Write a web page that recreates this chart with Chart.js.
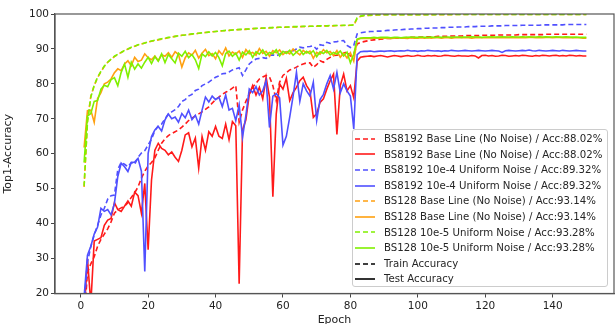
<!DOCTYPE html>
<html>
<head>
<meta charset="utf-8">
<script src="https://cdn.jsdelivr.net/npm/chart.js@4.4.1/dist/chart.umd.min.js"></script>
<style>
  html, body { margin: 0; padding: 0; background: #fff; }
  #wrap { position: relative; width: 615px; height: 324px; overflow: hidden; }
  #legend {
    position: absolute; left: 352px; top: 129px; width: 256px; height: 158px;
    border: 1px solid #cccccc; border-radius: 3px; background: rgba(255,255,255,0.85);
    font-family: "DejaVu Sans", sans-serif; font-size: 10.2px; color: #262626;
    box-sizing: border-box; padding-top: 1px;
  }
  #legend .row { height: 15.6px; line-height: 15.6px; white-space: nowrap; display: flex; align-items: center; }
  #legend svg { margin-left: 2px; margin-right: 9px; flex: none; }
</style>
</head>
<body>
<div id="wrap">
  <canvas id="chart" width="615" height="324"></canvas>
  <div id="legend"></div>
</div>
<script>
// epochs 1..150
const epochs = Array.from({ length: 150 }, (_, i) => i + 1);
const xTicks = [0, 20, 40, 60, 80, 100, 120, 140];
const yTicks = [20, 30, 40, 50, 60, 70, 80, 90, 100];

// BS8192 base line (no noise)
const bs8192BaseTrain = [
  12.0, 26.0, 28.5, 30.5, 33.5, 35.5, 37.0, 38.5, 40.5, 43.0,
  44.0, 44.5, 45.0, 46.0, 47.5, 48.8, 50.5, 53.0, 55.0, 56.5,
  57.5, 58.8, 61.0, 63.0, 64.3, 65.2, 65.8, 66.3, 66.8, 67.6,
  68.5, 69.5, 70.2, 70.8, 71.4, 72.0, 72.7, 73.4, 74.5, 75.5,
  76.2, 77.0, 77.6, 78.1, 78.8, 79.5, 69.0, 72.5, 75.0, 77.1,
  79.0, 80.2, 81.4, 82.0, 82.4, 82.0, 79.5, 75.2, 80.5, 82.4,
  83.2, 84.0, 84.3, 84.8, 85.3, 85.7, 86.0, 86.0, 84.7, 85.5,
  86.6, 86.2, 87.0, 87.6, 88.1, 88.2, 88.4, 88.8, 89.2, 88.0,
  88.5, 91.4, 91.9, 92.1, 92.3, 92.5, 92.6, 92.7, 92.8, 92.9,
  93.0, 93.0, 93.1, 93.1, 93.2, 93.2, 93.3, 93.3, 93.3, 93.4,
  93.4, 93.4, 93.5, 93.5, 93.5, 93.6, 93.6, 93.6, 93.6, 93.7,
  93.7, 93.7, 93.7, 93.8, 93.8, 93.8, 93.8, 93.8, 93.9, 93.9,
  93.9, 93.9, 93.9, 94.0, 94.0, 94.0, 94.0, 94.0, 94.0, 94.1,
  94.1, 94.1, 94.1, 94.1, 94.1, 94.1, 94.1, 94.2, 94.2, 94.2,
  94.2, 94.2, 94.2, 94.2, 94.2, 94.2, 94.2, 94.2, 94.2, 94.2
];
const bs8192BaseTest = [
  14.0, 30.0, 17.0, 35.0, 35.5, 36.0, 39.5, 41.0, 41.5, 46.0,
  44.0, 43.5, 45.0, 46.5, 45.0, 49.0, 48.0, 43.0, 51.5, 32.5,
  52.5, 61.0, 63.0, 61.5, 61.0, 59.7, 60.5, 59.0, 57.8, 61.0,
  65.4, 66.0, 62.0, 64.5, 55.9, 64.9, 61.0, 66.3, 65.0, 67.8,
  65.0, 64.4, 68.5, 64.0, 69.2, 68.0, 22.8, 66.8, 69.7, 77.0,
  79.5, 76.8, 79.0, 75.7, 81.9, 76.2, 47.7, 71.4, 80.0, 78.5,
  81.6, 75.2, 77.5, 79.0, 80.9, 81.9, 79.5, 78.0, 70.4, 71.5,
  74.7, 75.7, 78.5, 80.9, 82.8, 65.5, 79.5, 82.8, 78.0, 79.5,
  76.0, 86.5, 87.6, 87.8, 87.9, 88.0, 87.8, 88.0, 88.1, 87.9,
  87.7, 87.9, 88.1, 88.0, 87.8, 88.0, 88.1, 87.9, 88.0, 88.2,
  88.0, 87.9, 88.1, 88.0, 88.1, 87.9, 88.0, 88.2, 88.1, 88.0,
  87.9, 88.1, 88.0, 88.0, 87.9, 88.1, 88.0, 87.4, 88.1, 88.2,
  88.0, 88.1, 87.9, 88.0, 88.2, 88.1, 87.9, 88.0, 88.1, 88.0,
  88.2, 88.1, 88.0, 87.9, 88.1, 88.0, 88.2, 88.1, 88.0, 88.1,
  88.2, 88.0, 88.1, 88.0, 88.2, 88.1, 88.0, 88.1, 88.0, 88.0
];

// BS8192 10e-4 uniform noise
const bs8192NoiseTrain = [
  17.0, 29.0, 33.4, 36.8, 39.5, 42.5, 44.4, 47.0, 48.0, 48.2,
  55.5, 57.5, 57.0, 56.3, 57.5, 57.0, 59.0, 60.2, 60.9, 62.5,
  64.2, 66.6, 68.0, 68.5, 70.0, 71.4, 72.0, 72.6, 73.5, 75.0,
  75.5, 76.5, 77.0, 78.1, 78.5, 79.5, 80.0, 80.5, 81.2, 81.9,
  82.3, 82.9, 83.0, 83.4, 84.0, 84.3, 84.6, 82.4, 84.0, 85.7,
  86.5, 87.1, 87.3, 87.5, 87.3, 88.1, 88.3, 88.0, 88.5, 89.0,
  89.2, 89.3, 89.5, 90.0, 90.5, 90.3, 90.6, 90.7, 90.9, 89.9,
  91.2, 91.0, 91.9, 91.6, 92.0, 92.1, 92.3, 92.4, 91.0, 90.4,
  91.0, 94.3, 94.6, 94.8, 94.9, 95.0, 95.0, 95.1, 95.1, 95.2,
  95.3, 95.3, 95.4, 95.5, 95.5, 95.6, 95.6, 95.7, 95.7, 95.8,
  95.8, 95.9, 95.9, 96.0, 96.0, 96.0, 96.1, 96.1, 96.2, 96.2,
  96.2, 96.3, 96.3, 96.3, 96.4, 96.4, 96.4, 96.5, 96.5, 96.5,
  96.5, 96.6, 96.6, 96.6, 96.6, 96.7, 96.7, 96.7, 96.7, 96.7,
  96.8, 96.8, 96.8, 96.8, 96.8, 96.8, 96.9, 96.9, 96.9, 96.9,
  96.9, 96.9, 96.9, 97.0, 97.0, 97.0, 97.0, 97.0, 97.0, 97.0
];
const bs8192NoiseTest = [
  19.0, 31.0, 33.5, 37.0, 39.0, 44.4, 43.5, 44.0, 42.5, 45.8,
  53.5, 57.3, 56.3, 54.9, 57.5, 57.6, 58.7, 55.0, 26.3, 60.1,
  64.9, 66.8, 67.8, 66.5, 69.7, 71.4, 70.0, 70.5, 69.0, 71.5,
  70.3, 72.5, 69.8, 71.0, 68.5, 72.5, 76.2, 74.8, 76.5, 75.5,
  76.2, 73.5, 76.8, 72.5, 73.0, 69.5, 74.0, 64.7, 71.0, 78.5,
  77.5, 79.2, 76.8, 78.0, 80.9, 67.5, 76.5, 77.2, 76.0, 62.5,
  65.0, 70.5, 76.5, 83.3, 75.0, 80.0, 78.0, 76.5, 80.5, 69.5,
  75.5, 77.0, 80.0, 82.4, 78.5, 83.3, 77.5, 80.0, 78.0, 76.5,
  67.1, 88.4, 89.2, 89.3, 89.3, 89.4, 89.2, 89.3, 89.4, 89.3,
  89.4, 89.5, 89.3, 89.4, 89.5, 89.4, 89.6, 89.4, 89.5, 89.3,
  89.5, 89.4, 89.6, 89.5, 89.4, 89.5, 89.3, 89.5, 89.4, 89.6,
  89.5, 89.4, 89.5, 89.6, 89.5, 89.4, 89.5, 89.6, 89.5, 89.4,
  89.5, 89.6, 89.5, 89.4, 89.0, 89.5, 89.6, 89.5, 89.4, 89.5,
  89.6, 89.5, 89.7, 89.5, 89.4, 89.6, 89.5, 89.4, 89.5, 89.6,
  89.5, 89.4, 89.6, 89.5, 89.4, 89.5, 89.6, 89.5, 89.4, 89.4
];

// BS128 base line (no noise)
const bs128BaseTrain = [
  50.5, 69.5, 76.5, 79.5, 81.8, 83.5, 85.0, 86.2, 87.0, 87.8,
  88.4, 89.0, 89.5, 90.0, 90.4, 90.8, 91.1, 91.4, 91.7, 92.0,
  92.2, 92.4, 92.6, 92.8, 93.0, 93.2, 93.4, 93.6, 93.7, 93.9,
  94.0, 94.1, 94.2, 94.3, 94.5, 94.6, 94.7, 94.8, 94.9, 95.0,
  95.1, 95.2, 95.2, 95.3, 95.4, 95.5, 95.5, 95.6, 95.6, 95.7,
  95.8, 95.8, 95.9, 95.9, 96.0, 96.0, 96.1, 96.1, 96.2, 96.2,
  96.2, 96.3, 96.3, 96.3, 96.4, 96.4, 96.4, 96.5, 96.5, 96.5,
  96.5, 96.6, 96.6, 96.6, 96.6, 96.7, 96.7, 96.7, 96.7, 96.8,
  96.8, 98.7, 99.3, 99.5, 99.6, 99.6, 99.7, 99.7, 99.7, 99.8,
  99.8, 99.8, 99.8, 99.8, 99.8, 99.8, 99.8, 99.8, 99.8, 99.8,
  99.8, 99.8, 99.8, 99.8, 99.8, 99.8, 99.8, 99.8, 99.8, 99.8,
  99.9, 99.9, 99.9, 99.9, 99.9, 99.9, 99.9, 99.9, 99.9, 99.9,
  99.9, 99.9, 99.9, 99.9, 99.9, 99.9, 99.9, 99.9, 99.9, 99.9,
  99.9, 99.9, 99.9, 99.9, 99.9, 99.9, 99.9, 99.9, 99.9, 99.9,
  99.9, 99.9, 99.9, 99.9, 99.9, 99.9, 99.9, 99.9, 99.9, 99.9
];
const bs128BaseTest = [
  61.8, 72.3, 72.5, 69.0, 75.8, 77.5, 80.0, 80.5, 81.4, 83.2,
  84.3, 83.8, 85.7, 86.6, 85.2, 87.6, 86.4, 86.8, 88.6, 87.5,
  86.9, 88.0, 86.6, 88.3, 87.9, 88.9, 87.6, 89.2, 88.4, 84.8,
  87.5, 88.9, 88.2, 89.6, 87.4, 88.8, 89.9, 88.1, 88.7, 87.2,
  89.5, 88.3, 90.3, 88.0, 89.1, 88.5, 89.4, 87.6, 89.8, 88.6,
  89.0, 88.2, 90.1, 88.7, 89.3, 87.9, 89.5, 88.9, 89.7, 88.4,
  89.2, 88.6, 90.0, 89.1, 88.3, 89.6, 88.8, 89.4, 87.3, 89.0,
  88.5, 89.8, 88.9, 89.3, 88.1, 89.5, 87.6, 88.8, 87.4, 88.9,
  86.5, 92.6, 93.0, 93.0, 93.1, 93.0, 93.1, 93.1, 93.0, 93.1,
  93.1, 93.0, 93.1, 93.2, 93.1, 93.1, 93.0, 93.2, 93.1, 93.1,
  93.2, 93.1, 93.2, 93.1, 93.2, 93.2, 93.1, 93.2, 93.2, 93.1,
  93.2, 93.2, 93.3, 93.2, 93.2, 93.1, 93.2, 93.3, 93.2, 93.2,
  93.3, 93.2, 93.2, 93.3, 93.2, 93.3, 93.2, 93.2, 93.3, 93.2,
  93.3, 93.2, 93.3, 93.3, 93.2, 93.3, 93.2, 93.3, 93.3, 93.2,
  93.3, 93.3, 93.2, 93.3, 93.2, 93.3, 93.2, 93.2, 93.1, 93.1
];

// BS128 10e-5 uniform noise
const bs128NoiseTrain = [
  50.8, 69.0, 76.2, 79.6, 81.9, 83.6, 85.1, 86.2, 87.1, 87.9,
  88.5, 89.0, 89.6, 90.0, 90.5, 90.8, 91.2, 91.4, 91.7, 92.0,
  92.3, 92.5, 92.7, 92.9, 93.1, 93.3, 93.4, 93.6, 93.8, 93.9,
  94.0, 94.2, 94.3, 94.4, 94.5, 94.6, 94.7, 94.8, 94.9, 95.0,
  95.1, 95.2, 95.3, 95.3, 95.4, 95.5, 95.6, 95.6, 95.7, 95.7,
  95.8, 95.9, 95.9, 96.0, 96.0, 96.1, 96.1, 96.2, 96.2, 96.2,
  96.3, 96.3, 96.4, 96.4, 96.4, 96.5, 96.5, 96.5, 96.5, 96.6,
  96.6, 96.6, 96.6, 96.7, 96.7, 96.7, 96.7, 96.8, 96.8, 96.8,
  96.9, 98.9, 99.4, 99.6, 99.6, 99.7, 99.7, 99.8, 99.8, 99.8,
  99.8, 99.8, 99.8, 99.8, 99.8, 99.8, 99.8, 99.8, 99.8, 99.8,
  99.8, 99.8, 99.8, 99.8, 99.8, 99.9, 99.9, 99.9, 99.9, 99.9,
  99.9, 99.9, 99.9, 99.9, 99.9, 99.9, 99.9, 99.9, 99.9, 99.9,
  99.9, 99.9, 99.9, 99.9, 99.9, 99.9, 99.9, 99.9, 99.9, 99.9,
  99.9, 99.9, 99.9, 99.9, 99.9, 99.9, 99.9, 99.9, 99.9, 99.9,
  99.9, 99.9, 99.9, 99.9, 99.9, 99.9, 99.9, 99.9, 99.9, 99.9
];
const bs128NoiseTest = [
  57.5, 70.8, 71.5, 75.0, 75.2, 78.5, 79.6, 79.2, 81.2, 81.8,
  79.5, 83.3, 85.7, 81.9, 86.2, 84.2, 85.7, 84.5, 86.2, 87.6,
  85.8, 87.8, 86.5, 88.6, 86.1, 88.4, 87.2, 86.0, 88.8, 87.9,
  89.3, 87.5, 88.4, 86.9, 84.4, 88.6, 87.8, 89.2, 88.0, 89.0,
  87.5, 85.2, 88.7, 89.4, 87.9, 88.8, 86.8, 89.1, 88.3, 89.5,
  87.6, 89.2, 88.5, 89.7, 88.1, 89.0, 88.6, 89.8, 88.0, 89.3,
  88.7, 89.6, 88.2, 89.1, 89.8, 88.4, 89.3, 88.6, 89.5, 87.8,
  89.2, 88.7, 89.6, 88.3, 89.0, 88.5, 89.4, 88.0, 89.1, 86.0,
  88.5, 92.8, 93.1, 93.2, 93.2, 93.2, 93.3, 93.2, 93.3, 93.3,
  93.3, 93.2, 93.3, 93.3, 93.2, 93.3, 93.3, 93.4, 93.3, 93.3,
  93.4, 93.3, 93.3, 93.4, 93.3, 93.4, 93.3, 93.4, 93.4, 93.3,
  93.4, 93.4, 93.3, 93.4, 93.4, 93.5, 93.4, 93.4, 93.3, 93.4,
  93.4, 93.5, 93.4, 93.4, 93.5, 93.4, 93.4, 93.5, 93.4, 93.4,
  93.5, 93.4, 93.5, 93.4, 93.4, 93.5, 93.4, 93.5, 93.4, 93.4,
  93.5, 93.4, 93.4, 93.5, 93.4, 93.3, 93.4, 93.3, 93.3, 93.3
];

const seriesNames = [
  'BS8192 Base Line (No Noise) / Acc:88.02%',
  'BS8192 Base Line (No Noise) / Acc:88.02%',
  'BS8192 10e-4 Uniform Noise / Acc:89.32%',
  'BS8192 10e-4 Uniform Noise / Acc:89.32%',
  'BS128 Base Line (No Noise) / Acc:93.14%',
  'BS128 Base Line (No Noise) / Acc:93.14%',
  'BS128 10e-5 Uniform Noise / Acc:93.28%',
  'BS128 10e-5 Uniform Noise / Acc:93.28%'
];
const seriesValues = [
  bs8192BaseTrain, bs8192BaseTest,
  bs8192NoiseTrain, bs8192NoiseTest,
  bs128BaseTrain, bs128BaseTest,
  bs128NoiseTrain, bs128NoiseTest
];
const seriesColors = ['#ff1a1a', '#ff1a1a', '#5050ff', '#5050ff', '#ffa010', '#ffa010', '#80f000', '#80f000'];
const dashPattern = [5, 3];

function makeDataset(values, i) {
  const dashed = i % 2 === 0;
  return {
    label: seriesNames[i],
    data: values.map((v, k) => ({ x: epochs[k], y: v })),
    borderColor: seriesColors[i],
    borderWidth: 1.6,
    borderDash: dashed ? dashPattern : [],
    pointRadius: 0,
    tension: 0,
    fill: false,
    order: seriesValues.length - i // later series drawn on top, like matplotlib
  };
}

const frame = {
  id: 'frame',
  afterDraw(chart) {
    const a = chart.chartArea;
    const ctx = chart.ctx;
    ctx.save();
    ctx.strokeStyle = '#555';
    ctx.lineWidth = 1.2;
    ctx.strokeRect(a.left, a.top, a.right - a.left, a.bottom - a.top);
    ctx.restore();
  }
};

const tickFont = { family: 'DejaVu Sans', size: 10.5 };
const titleFont = { family: 'DejaVu Sans', size: 11 };

new Chart(document.getElementById('chart'), {
  type: 'line',
  data: { datasets: seriesValues.map(makeDataset) },
  options: {
    responsive: false,
    animation: false,
    layout: { padding: { top: 14, right: 1, left: 0, bottom: 0 } },
    plugins: { legend: { display: false }, tooltip: { enabled: false } },
    scales: {
      x: {
        type: 'linear',
        min: -7.63,
        max: 158.2,
        afterBuildTicks: s => { s.ticks = xTicks.map(v => ({ value: v })); },
        afterFit: s => { s.height = 30.5; },
        grid: { drawOnChartArea: false, tickLength: 4, color: '#444' },
        border: { color: '#555', width: 1.2 },
        ticks: { font: tickFont, color: '#222', padding: 2, maxRotation: 0 },
        title: { display: true, text: 'Epoch', font: titleFont, color: '#222', padding: { top: 0, bottom: -3 } }
      },
      y: {
        min: 20,
        max: 100,
        afterBuildTicks: s => { s.ticks = yTicks.map(v => ({ value: v })); },
        afterFit: s => { s.width = 55; },
        grid: { drawOnChartArea: false, tickLength: 4, color: '#444' },
        border: { color: '#555', width: 1.2 },
        ticks: { font: tickFont, color: '#222', padding: 2 },
        title: { display: true, text: 'Top1-Accuracy', font: titleFont, color: '#222', padding: { top: 2, bottom: 0 } }
      }
    }
  },
  plugins: [frame]
});

// legend: the 8 series plus two style keys
const legendItems = seriesNames.map((name, i) => ({ text: name, color: seriesColors[i], dashed: i % 2 === 0 }));
legendItems.push({ text: 'Train Accuracy', color: '#000', dashed: true });
legendItems.push({ text: 'Test Accuracy', color: '#000', dashed: false });

const legendBox = document.getElementById('legend');
legendItems.forEach(item => {
  const row = document.createElement('div');
  row.className = 'row';
  row.innerHTML = `
    <svg width="20" height="8"><line x1="0" y1="4" x2="20" y2="4" stroke="${item.color}" stroke-width="1.6"
      ${item.dashed ? 'stroke-dasharray="5,3"' : ''}/></svg>
    <span>${item.text}</span>
  `;
  legendBox.appendChild(row);
});
</script>
</body>
</html>
